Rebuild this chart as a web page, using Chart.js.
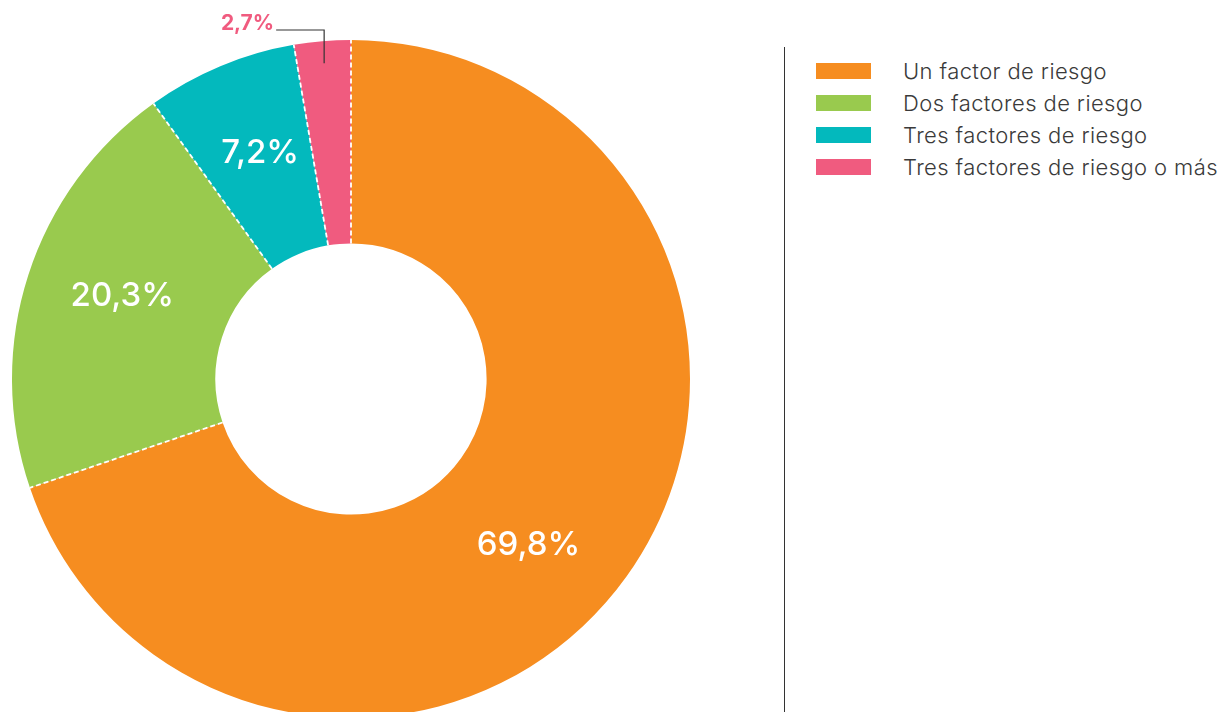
<!DOCTYPE html>
<html>
<head>
<meta charset="utf-8">
<script src="https://cdn.jsdelivr.net/npm/chart.js@4"></script>
<style>
  html, body { margin: 0; padding: 0; background: #fff; overflow: hidden; width: 1228px; height: 712px; }
  #chartBox { position: absolute; left: 0; top: 0; width: 720px; height: 740px; }
  #divider { position: absolute; left: 784px; top: 47px; width: 1px; height: 680px; background: #333; }
  #legend { position: absolute; left: 816px; top: 55px; font-family: Inter, 'Open Sans', sans-serif; font-weight: 300; font-size: 22px; letter-spacing: 0.4px; color: #3a3a3a; }
  .row { height: 32px; display: flex; align-items: center; white-space: nowrap; }
  .box { width: 55px; height: 16px; margin-right: 32px; }
</style>
</head>
<body>
<div id="chartBox"><canvas id="chart"></canvas></div>
<div id="divider"></div>
<div id="legend"></div>
<script>
const categories = ['Un factor de riesgo', 'Dos factores de riesgo', 'Tres factores de riesgo', 'Tres factores de riesgo o más'];
const values = [69.8, 20.3, 7.2, 2.7];
const valueLabels = ['69,8%', '20,3%', '7,2%', '2,7%'];
const colors = ['#F68D20', '#99CA4E', '#03B9BD', '#F05B7F'];

// legend
const legend = document.getElementById('legend');
categories.forEach((c, i) => {
   const row = document.createElement('div');
   row.className = 'row';
   row.innerHTML = '<div class="box" style="background:' + colors[i] + '"></div><span>' + c + '</span>';
   legend.appendChild(row);
});

// white dashed lines between slices + value labels
const sliceDecor = {
   id: 'sliceDecor',
   afterDatasetsDraw(chart) {
      const ctx = chart.ctx;
      const arcs = chart.getDatasetMeta(0).data;
      ctx.save();
      ctx.strokeStyle = '#ffffff';
      ctx.lineWidth = 1.8;
      ctx.setLineDash([5, 3]);
      arcs.forEach(arc => {
         const p = arc.getProps(['x', 'y', 'startAngle', 'innerRadius', 'outerRadius']);
         ctx.beginPath();
         ctx.moveTo(p.x + Math.cos(p.startAngle) * p.innerRadius, p.y + Math.sin(p.startAngle) * p.innerRadius);
         ctx.lineTo(p.x + Math.cos(p.startAngle) * p.outerRadius, p.y + Math.sin(p.startAngle) * p.outerRadius);
         ctx.stroke();
      });
      ctx.setLineDash([]);

      arcs.forEach((arc, i) => {
         const p = arc.getProps(['x', 'y', 'startAngle', 'endAngle', 'innerRadius', 'outerRadius']);
         if (values[i] >= 5) {
            const a = p.startAngle + (p.endAngle - p.startAngle) * 0.53;
            const r = p.innerRadius + (p.outerRadius - p.innerRadius) * 0.53;
            ctx.fillStyle = '#ffffff';
            ctx.font = '500 33px Inter, "Open Sans", sans-serif';
            ctx.textAlign = 'center';
            ctx.textBaseline = 'middle';
            ctx.fillText(valueLabels[i], p.x + Math.cos(a) * r, p.y + Math.sin(a) * r);
         } else {
            const a = (p.startAngle + p.endAngle) / 2;
            const r = p.outerRadius - 22;
            const x0 = p.x + Math.cos(a) * r;
            const y0 = p.y + Math.sin(a) * r;
            const yTop = p.y - p.outerRadius - 10;
            const xEnd = x0 - 48;
            ctx.strokeStyle = '#333333';
            ctx.lineWidth = 1.2;
            ctx.beginPath();
            ctx.moveTo(x0, y0);
            ctx.lineTo(x0, yTop);
            ctx.lineTo(xEnd, yTop);
            ctx.stroke();
            ctx.fillStyle = colors[i];
            ctx.font = '700 21px Inter, "Open Sans", sans-serif';
            ctx.textAlign = 'right';
            ctx.textBaseline = 'alphabetic';
            ctx.fillText(valueLabels[i], xEnd - 2, yTop);
         }
      });
      ctx.restore();
   }
};

new Chart(document.getElementById('chart').getContext('2d'), {
   type: 'doughnut',
   data: {
      labels: categories,
      datasets: [
         {
            data: values,
            backgroundColor: colors,
            borderWidth: 0,
         },
      ],
   },
   options: {
      responsive: true,
      maintainAspectRatio: false,
      animation: false,
      cutout: '40%',
      layout: { padding: { left: 12, top: 40, right: 30, bottom: 22 } },
      plugins: {
         legend: { display: false },
         tooltip: { enabled: false },
      },
   },
   plugins: [sliceDecor],
});
</script>
</body>
</html>
